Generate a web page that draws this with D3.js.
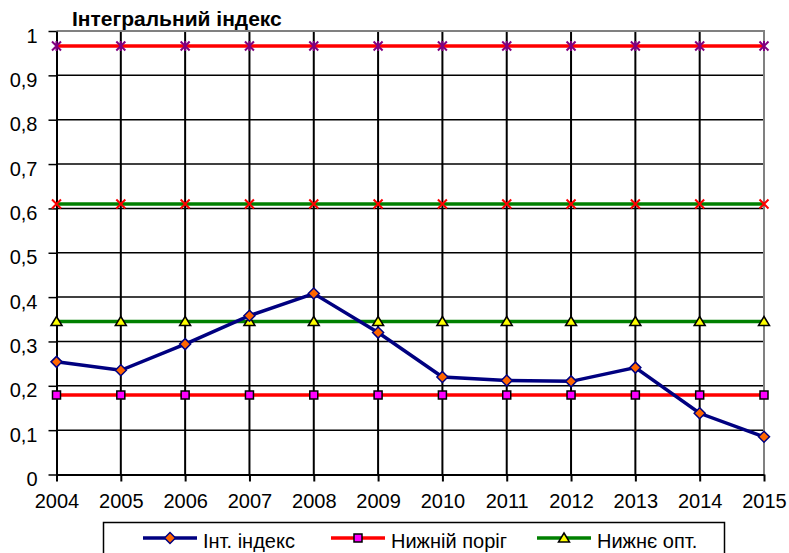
<!DOCTYPE html>
<html>
<head>
<meta charset="utf-8">
<script src="https://cdn.jsdelivr.net/npm/d3@7"></script>
<style>
  body { margin: 0; background: #fff; }
  svg { display: block; font-family: Arial, "Liberation Sans", sans-serif; }
</style>
</head>
<body>
<svg id="chart" width="789" height="553"></svg>
<script>
var years = [2004, 2005, 2006, 2007, 2008, 2009, 2010, 2011, 2012, 2013, 2014, 2015];
var intIndex   = [0.254, 0.235, 0.294, 0.358, 0.408, 0.320, 0.220, 0.212, 0.210, 0.241, 0.138, 0.085];
var lowerLimit = [0.179, 0.179, 0.179, 0.179, 0.179, 0.179, 0.179, 0.179, 0.179, 0.179, 0.179, 0.179];
var lowerOpt   = [0.345, 0.345, 0.345, 0.345, 0.345, 0.345, 0.345, 0.345, 0.345, 0.345, 0.345, 0.345];
var upperOpt   = [0.610, 0.610, 0.610, 0.610, 0.610, 0.610, 0.610, 0.610, 0.610, 0.610, 0.610, 0.610];
var upperLimit = [0.966, 0.966, 0.966, 0.966, 0.966, 0.966, 0.966, 0.966, 0.966, 0.966, 0.966, 0.966];
var yTicks = [0, 0.1, 0.2, 0.3, 0.4, 0.5, 0.6, 0.7, 0.8, 0.9, 1];
var yTickLabels = ["0", "0,1", "0,2", "0,3", "0,4", "0,5", "0,6", "0,7", "0,8", "0,9", "1"];
var legendNames = ["Інт. індекс", "Нижній поріг", "Нижнє опт."];

var svg = d3.select("#chart");
var plotLeft = 56.5, plotRight = 764, plotTop = 31, plotBottom = 474.5;

var x = d3.scalePoint().domain(years).range([plotLeft, plotRight]);
var y = d3.scaleLinear().domain([0, 1]).range([plotBottom, plotTop]);

// title
svg.append("text")
  .attr("x", 72).attr("y", 26)
  .attr("font-size", 21).attr("font-weight", "bold")
  .text("Інтегральний індекс");

// horizontal grid
svg.append("g").selectAll("line")
  .data(yTicks.slice(1, -1))
  .enter().append("line")
  .attr("x1", plotLeft).attr("x2", plotRight)
  .attr("y1", function(d) { return y(d); })
  .attr("y2", function(d) { return y(d); })
  .attr("stroke", "#000").attr("stroke-width", 1.5);

// vertical grid
svg.append("g").selectAll("line")
  .data(years.slice(1, -1))
  .enter().append("line")
  .attr("x1", function(d) { return x(d); })
  .attr("x2", function(d) { return x(d); })
  .attr("y1", plotTop).attr("y2", plotBottom)
  .attr("stroke", "#000").attr("stroke-width", 2);

// frame top/right (grey)
svg.append("path")
  .attr("d", "M" + plotLeft + "," + plotTop + "H" + plotRight + "V" + plotBottom)
  .attr("fill", "none").attr("stroke", "#808080").attr("stroke-width", 2);

// axes
var yAxis = svg.append("g")
  .attr("transform", "translate(" + plotLeft + ",0)")
  .call(d3.axisLeft(y).tickValues(yTicks).tickSizeInner(8).tickSizeOuter(0)
    .tickPadding(11)
    .tickFormat(function(d, i) { return yTickLabels[i]; }));
yAxis.select(".domain").attr("stroke", "#000").attr("stroke-width", 2);
yAxis.selectAll(".tick line").attr("stroke", "#000").attr("stroke-width", 1.5);
yAxis.selectAll(".tick text")
  .attr("font-size", 20).attr("font-family", "Arial, 'Liberation Sans', sans-serif")
  .attr("fill", "#000").attr("dy", "0.55em");

var xAxis = svg.append("g")
  .attr("transform", "translate(0," + plotBottom + ")")
  .call(d3.axisBottom(x).tickSizeInner(7).tickSizeOuter(0).tickPadding(12));
xAxis.select(".domain").attr("stroke", "#000").attr("stroke-width", 2);
xAxis.selectAll(".tick line").attr("stroke", "#000").attr("stroke-width", 2);
xAxis.selectAll(".tick text")
  .attr("font-size", 20).attr("font-family", "Arial, 'Liberation Sans', sans-serif")
  .attr("fill", "#000");

// marker shapes
var diamond = "M0,-5.5L5.5,0L0,5.5L-5.5,0Z";
var square = "M-4,-4H4V4H-4Z";
var triangle = "M0,-5L5.5,4L-5.5,4Z";
var cross = "M-4.5,-4.5L4.5,4.5M4.5,-4.5L-4.5,4.5";
var star = "M-4.5,-4.5L4.5,4.5M4.5,-4.5L-4.5,4.5M0,-5V5";

var line = d3.line()
  .x(function(d, i) { return x(years[i]); })
  .y(function(d) { return y(d); });

var series = [
  { values: upperLimit, color: "#ff0000", marker: star, mFill: "none", mStroke: "#800080", mw: 2 },
  { values: upperOpt, color: "#008000", marker: cross, mFill: "none", mStroke: "#ff0000", mw: 2 },
  { values: lowerLimit, color: "#ff0000", marker: square, mFill: "#ff00ff", mStroke: "#000", mw: 1.5 },
  { values: lowerOpt, color: "#008000", marker: triangle, mFill: "#ffff00", mStroke: "#000", mw: 1.5 },
  { values: intIndex, color: "#000080", marker: diamond, mFill: "#ff6600", mStroke: "#000080", mw: 1.5 }
];

series.forEach(function(s) {
  svg.append("path")
    .attr("d", line(s.values))
    .attr("fill", "none").attr("stroke", s.color).attr("stroke-width", 3.5);
});
series.forEach(function(s) {
  svg.append("g").selectAll("path")
    .data(s.values)
    .enter().append("path")
    .attr("transform", function(d, i) { return "translate(" + x(years[i]) + "," + y(d) + ")"; })
    .attr("d", s.marker)
    .attr("fill", s.mFill).attr("stroke", s.mStroke).attr("stroke-width", s.mw);
});

// legend
var legend = svg.append("g");
legend.append("rect")
  .attr("x", 103.5).attr("y", 522.5).attr("width", 621).attr("height", 50)
  .attr("fill", "#fff").attr("stroke", "#000").attr("stroke-width", 1.5);

var legendSeries = [series[4], series[2], series[3]];
var legendX = [143, 331, 537];
legendSeries.forEach(function(s, i) {
  var lx = legendX[i], ly = 538;
  legend.append("line")
    .attr("x1", lx).attr("x2", lx + 54).attr("y1", ly).attr("y2", ly)
    .attr("stroke", s.color).attr("stroke-width", 3.5);
  legend.append("path")
    .attr("transform", "translate(" + (lx + 27) + "," + ly + ")")
    .attr("d", s.marker)
    .attr("fill", s.mFill).attr("stroke", s.mStroke).attr("stroke-width", s.mw);
  legend.append("text")
    .attr("x", lx + 60).attr("y", 548)
    .attr("font-size", 20)
    .text(legendNames[i]);
});
</script>
</body>
</html>
